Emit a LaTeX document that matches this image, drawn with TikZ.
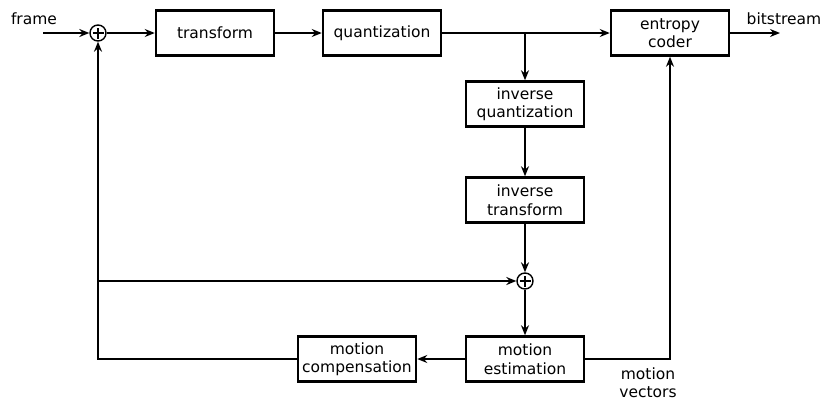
\documentclass[tikz,border=0pt]{standalone}
\usepackage{fontspec}
\setmainfont{DejaVu Sans}
\usetikzlibrary{arrows.meta}

\begin{document}
\begin{tikzpicture}[x=1pt,y=-1pt,
  font=\fontsize{15.5}{18.5}\selectfont,
  blk/.style={draw,line width=2.5pt,minimum width=118pt,minimum height=45pt,
    align=center,inner sep=0pt},
  sum/.style={draw,circle,line width=1.4pt,minimum size=16pt,inner sep=0pt,
    path picture={\draw[line width=1.2pt]
      ([xshift=-5.5pt]path picture bounding box.center) -- ([xshift=5.5pt]path picture bounding box.center)
      ([yshift=-5.5pt]path picture bounding box.center) -- ([yshift=5.5pt]path picture bounding box.center);}},
  conn/.style={line width=1.5pt,-{Stealth[length=10pt,width=8pt]}}]
\useasboundingbox (0,0) rectangle (833,402);

% top row
\node (frm) at (34,19) {frame};
\coordinate (in) at (43,33);
\node[sum] (s1) at (98,33) {};
\node[blk] (tr) at (215,33) {transform};
\node[blk] (qu) at (382,33) {quantization};
\coordinate (br) at (525,33);
\node[blk] (ec) at (670,33) {entropy\\coder};
\coordinate (out) at (780,33);
\node (bs) at (784,19) {bitstream};

% reconstruction loop
\node[blk] (iq) at (525,104) {inverse\\quantization};
\node[blk] (it) at (525,200) {inverse\\transform};
\node[sum] (s2) at (525,281) {};
\coordinate (fb) at (98,281);
\node[blk] (me) at (525,359) {motion\\estimation};
\node[blk] (mc) at (357,359) {motion\\compensation};
\node[align=center,font=\fontsize{15.5}{18}\selectfont] (mv) at (648,383) {motion\\vectors};

\draw[conn] (in) -- (s1);
\draw[conn] (s1) -- (tr);
\draw[conn] (tr) -- (qu);
\draw[conn] (qu) -- (ec);
\draw[conn] (ec) -- (out);
\draw[conn] (br) -- (iq);
\draw[conn] (iq) -- (it);
\draw[conn] (it) -- (s2);
\draw[conn] (fb) -- (s2);
\draw[conn] (s2) -- (me);
\draw[conn] (me) -- (mc);
\draw[conn] (mc) -| (s1);
\draw[conn] (me) -| (ec);
\end{tikzpicture}
\end{document}
